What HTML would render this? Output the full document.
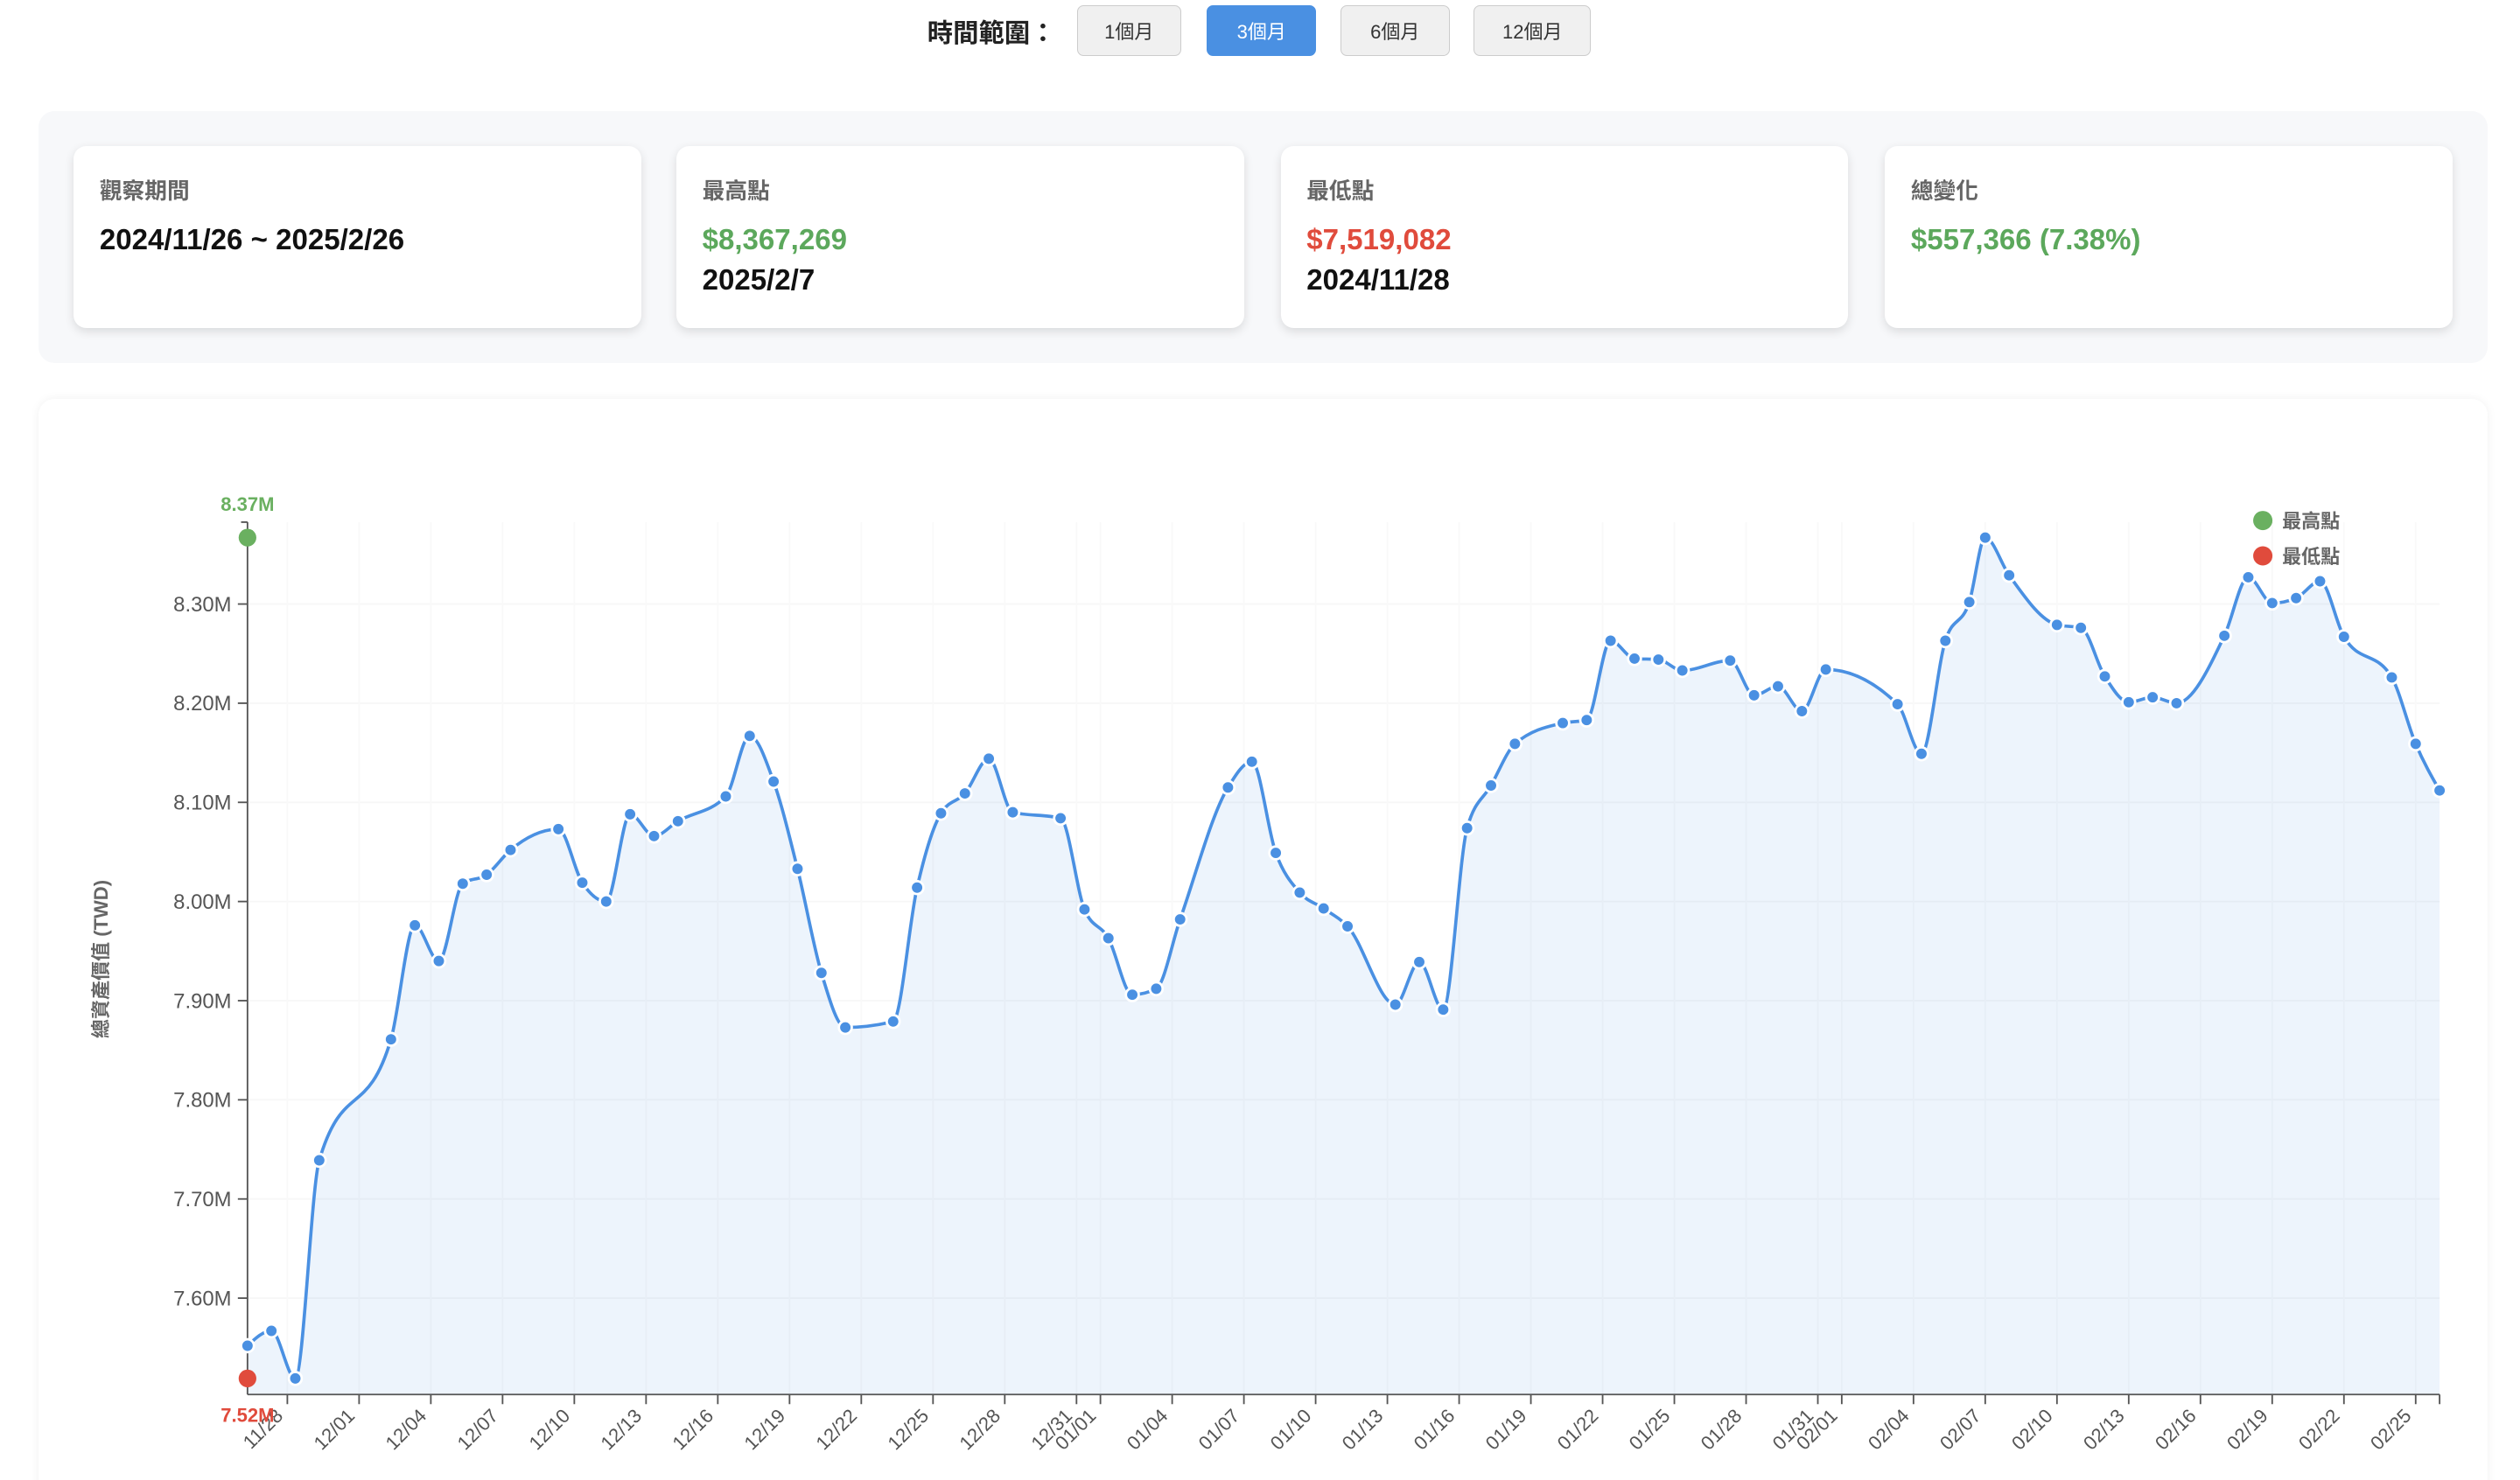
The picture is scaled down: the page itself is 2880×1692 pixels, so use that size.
<!DOCTYPE html>
<html><head><meta charset="utf-8">
<style>
html,body{margin:0;padding:0;background:#fff;width:2880px;height:1692px;overflow:hidden}
#wrap{zoom:1.8367;width:1568px;height:922px;position:relative;font-family:"Liberation Sans","Noto Sans CJK TC",sans-serif}
.hdr{position:absolute;top:8px;left:577px;font-size:16px;font-weight:bold;color:#222}
.btn{position:absolute;top:3px;height:32px;box-sizing:border-box;border:1px solid #ccc;background:#f0f0f0;border-radius:4px;font-size:12px;color:#333;display:flex;align-items:center;justify-content:center}
.btn.on{background:#4a90e2;border-color:#4a90e2;color:#fff}
.stats{position:absolute;left:24px;top:69px;width:1524px;height:157px;background:#f7f8fa;border-radius:10px}
.card{position:absolute;top:22px;width:353px;height:113px;background:#fff;border-radius:8px;box-shadow:0 2px 6px rgba(0,0,0,0.12)}
.lab{position:absolute;left:16px;top:17px;font-size:14px;font-weight:bold;color:#666}
.val{position:absolute;left:16px;top:46px;font-size:18px;font-weight:bold;color:#111;line-height:25px}
.chart{position:absolute;left:24px;top:248px;width:1524px;height:700px;background:#fff;border-radius:10px;box-shadow:0 0 6px rgba(0,0,0,0.06)}
svg{position:absolute;left:0;top:0}
</style></head><body>
<div id="wrap">
<div class="hdr">時間範圍：</div>
<div class="btn" style="left:670px;width:65px">1個月</div>
<div class="btn on" style="left:751px;width:68px">3個月</div>
<div class="btn" style="left:834px;width:68px">6個月</div>
<div class="btn" style="left:917px;width:73px">12個月</div>
<div class="stats">
 <div class="card" style="left:22px"><div class="lab">觀察期間</div><div class="val">2024/11/26 ~ 2025/2/26</div></div>
 <div class="card" style="left:397px"><div class="lab">最高點</div><div class="val"><span style="color:#5ca85c">$8,367,269</span><br>2025/2/7</div></div>
 <div class="card" style="left:773px"><div class="lab">最低點</div><div class="val"><span style="color:#e04b3c">$7,519,082</span><br>2024/11/28</div></div>
 <div class="card" style="left:1149px"><div class="lab">總變化</div><div class="val"><span style="color:#5ca85c">$557,366 (7.38%)</span></div></div>
</div>
<div class="chart"></div>
<svg id="svg" width="1568" height="922"></svg>
</div>
<script>
const dates=["11-26","11-27","11-28","11-29","12-02","12-03","12-04","12-05","12-06","12-07","12-09","12-10","12-11","12-12","12-13","12-14","12-16","12-17","12-18","12-19","12-20","12-21","12-23","12-24","12-25","12-26","12-27","12-28","12-30","12-31","01-01","01-02","01-03","01-04","01-06","01-07","01-08","01-09","01-10","01-11","01-13","01-14","01-15","01-16","01-17","01-18","01-20","01-21","01-22","01-23","01-24","01-25","01-27","01-28","01-29","01-30","01-31","02-03","02-04","02-05","02-06","02-07","02-08","02-10","02-11","02-12","02-13","02-14","02-15","02-17","02-18","02-19","02-20","02-21","02-22","02-24","02-25","02-26"];
const values=[7.552,7.567,7.519,7.739,7.861,7.976,7.940,8.018,8.027,8.052,8.073,8.019,8.000,8.088,8.066,8.081,8.106,8.167,8.121,8.033,7.928,7.873,7.879,8.014,8.089,8.109,8.144,8.090,8.084,7.992,7.963,7.906,7.912,7.982,8.115,8.141,8.049,8.009,7.993,7.975,7.896,7.939,7.891,8.074,8.117,8.159,8.180,8.183,8.263,8.245,8.244,8.233,8.243,8.208,8.217,8.192,8.234,8.199,8.149,8.263,8.302,8.367,8.329,8.279,8.276,8.227,8.201,8.206,8.200,8.268,8.327,8.301,8.306,8.323,8.267,8.226,8.159,8.112];
const yTicks=[7.6,7.7,7.8,7.9,8.0,8.1,8.2,8.3];
const xTickLabels=["11/28","12/01","12/04","12/07","12/10","12/13","12/16","12/19","12/22","12/25","12/28","12/31","01/01","01/04","01/07","01/10","01/13","01/16","01/19","01/22","01/25","01/28","01/31","02/01","02/04","02/07","02/10","02/13","02/16","02/19","02/22","02/25"];

const NS="http://www.w3.org/2000/svg";
const svg=document.getElementById('svg');
function el(t,a,p){const e=document.createElementNS(NS,t);for(const k in a)e.setAttribute(k,a[k]);(p||svg).appendChild(e);return e;}
function toT(md,hr){const [m,d]=md.split('-').map(Number);const y=m>=11?2024:2025;return Date.UTC(y,m-1,d,hr||0)/864e5;}
const cutoff=toT("02-07",0);
const times=dates.map(s=>{const t=toT(s,0);return t<cutoff?t+8/24:t;});
const X0=154,X1=1518,Y0=868,Y1=325;
const tMin=times[0],tMax=times[times.length-1];
const vMin=7.5028,vMax=8.3826;
const xs=t=>X0+(t-tMin)/(tMax-tMin)*(X1-X0);
const ys=v=>Y0-(v-vMin)/(vMax-vMin)*(Y0-Y1);

yTicks.forEach(v=>{const g=el('line',{x1:X0,x2:X1,y1:ys(v),y2:ys(v),stroke:'#f7f7f7','stroke-width':1});});
xTickLabels.forEach(l=>{const [m,d]=l.split('/');const x=xs(toT(m+'-'+d,0));const g=el('line',{x1:x,x2:x,y1:Y1,y2:Y0,stroke:'#f9f9f9','stroke-width':1});});

const P=times.map((t,i)=>[xs(t),ys(values[i])]);
function monotone(pts){const n=pts.length;const m=new Array(n);const dx=[],sl=[];
for(let i=0;i<n-1;i++){dx[i]=pts[i+1][0]-pts[i][0];sl[i]=(pts[i+1][1]-pts[i][1])/dx[i];}
for(let i=1;i<n-1;i++){if(sl[i-1]*sl[i]<=0)m[i]=0;else{const p=(sl[i-1]*dx[i]+sl[i]*dx[i-1])/(dx[i-1]+dx[i]);m[i]=(Math.sign(sl[i-1])+Math.sign(sl[i]))*Math.min(Math.abs(sl[i-1]),Math.abs(sl[i]),0.5*Math.abs(p));}}
m[0]=(3*sl[0]-m[1])/2;m[n-1]=(3*sl[n-2]-m[n-2])/2;
let d='M'+pts[0][0]+','+pts[0][1];
for(let i=0;i<n-1;i++){const h=dx[i]/3;d+=`C${pts[i][0]+h},${pts[i][1]+h*m[i]} ${pts[i+1][0]-h},${pts[i+1][1]-h*m[i+1]} ${pts[i+1][0]},${pts[i+1][1]}`;}return d;}
const lp=monotone(P);
const area=el('path',{d:lp+`L${P[P.length-1][0]},${Y0}L${P[0][0]},${Y0}Z`,fill:'#4a90e2','fill-opacity':0.1});


const line=el('path',{d:lp,fill:'none',stroke:'#4a90e2','stroke-width':2});



const ya=el('line',{x1:X0,x2:X0,y1:Y1,y2:Y0,stroke:'#555','stroke-width':1});


el('line',{x1:X0-4,x2:X0,y1:Y1,y2:Y1,stroke:'#555'});
const xa=el('line',{x1:X0,x2:X1,y1:Y0,y2:Y0,stroke:'#555','stroke-width':1});


el('line',{x1:X1,x2:X1,y1:Y0,y2:Y0+6,stroke:'#555'});
yTicks.forEach(v=>{const y=ys(v);el('line',{x1:X0-6,x2:X0,y1:y,y2:y,stroke:'#555'});
const t=el('text',{x:X0-10,y:y+4.5,'text-anchor':'end','font-size':13,fill:'#555'});t.textContent=v.toFixed(2)+'M';

});
xTickLabels.forEach(l=>{const [m,d]=l.split('/');const x=xs(toT(m+'-'+d,0));el('line',{x1:x,x2:x,y1:Y0,y2:Y0+6,stroke:'#555'});
const t=el('text',{x:x-2,y:Y0+14,'text-anchor':'end','font-size':12,fill:'#555',transform:`rotate(-45 ${x-2} ${Y0+14})`});t.textContent=l;

});
const yt=el('text',{x:0,y:0,'text-anchor':'middle','font-size':12,'font-weight':'bold',fill:'#666',transform:'translate(67,597) rotate(-90)'});yt.textContent='總資產價值 (TWD)';



P.forEach(p=>{const c=el('circle',{cx:p[0],cy:p[1],r:4,fill:'#4a90e2',stroke:'#fff','stroke-width':1.5});

});

let iMax=0,iMin=0;values.forEach((v,i)=>{if(v>values[iMax])iMax=i;if(v<values[iMin])iMin=i;});
const gM=el('circle',{cx:X0,cy:ys(values[iMax]),r:5.5,fill:'#6ab060'});


const rM=el('circle',{cx:X0,cy:ys(values[iMin]),r:5.5,fill:'#e04b3c'});


const tM=el('text',{x:X0,y:318,'text-anchor':'middle','font-size':12,'font-weight':'bold',fill:'#6ab060'});tM.textContent=values[iMax].toFixed(2)+'M';


const tm=el('text',{x:X0,y:885,'text-anchor':'middle','font-size':12,'font-weight':'bold',fill:'#e04b3c'});tm.textContent=values[iMin].toFixed(2)+'M';



[['最高點','#6ab060',324],['最低點','#e04b3c',346]].forEach(a=>{const c=el('circle',{cx:1408,cy:a[2],r:6,fill:a[1]});


const t=el('text',{x:1420,y:a[2]+4.5,'font-size':12,'font-weight':'bold',fill:'#666'});t.textContent=a[0];

});
</script>
</body></html>
